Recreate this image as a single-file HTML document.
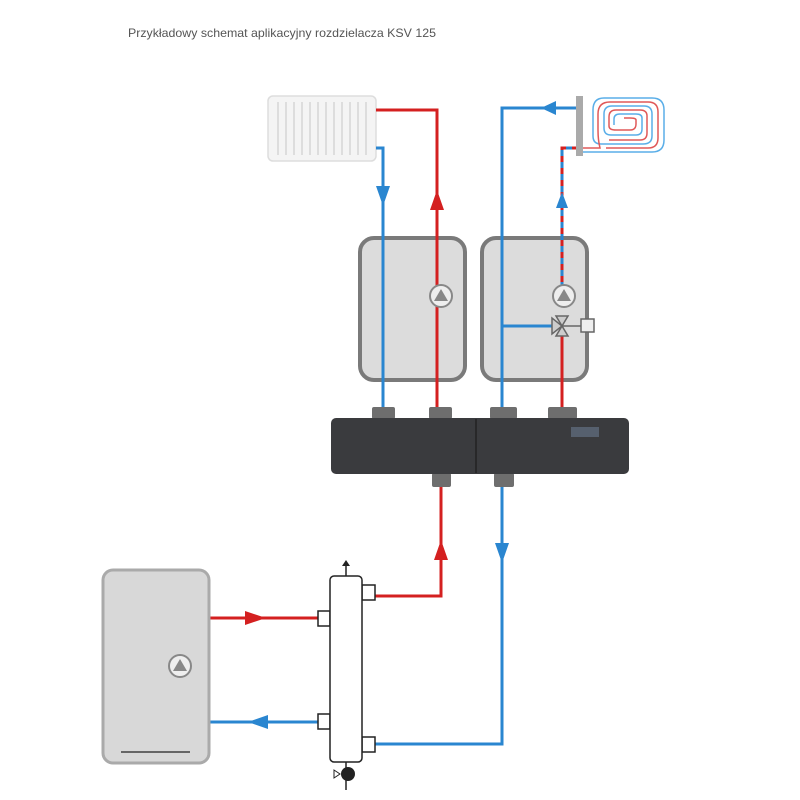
<!DOCTYPE html>
<html><head><style>body{margin:0;background:#fff}svg{display:block}</style></head><body>
<svg width="800" height="800" viewBox="0 0 800 800" xmlns="http://www.w3.org/2000/svg">
<text x="128" y="37" font-family="Liberation Sans, sans-serif" font-size="12" fill="#555" textLength="308" lengthAdjust="spacingAndGlyphs">Przykładowy schemat aplikacyjny rozdzielacza KSV 125</text>
<!-- radiator -->
<rect x="268" y="96" width="108" height="65" rx="5" fill="#f4f4f4" stroke="#ddd" stroke-width="1.5"/>
<g stroke="#ddd" stroke-width="2">
<line x1="278" y1="102" x2="278" y2="155"/><line x1="286" y1="102" x2="286" y2="155"/><line x1="294" y1="102" x2="294" y2="155"/><line x1="302" y1="102" x2="302" y2="155"/><line x1="310" y1="102" x2="310" y2="155"/><line x1="318" y1="102" x2="318" y2="155"/><line x1="326" y1="102" x2="326" y2="155"/><line x1="334" y1="102" x2="334" y2="155"/><line x1="342" y1="102" x2="342" y2="155"/><line x1="350" y1="102" x2="350" y2="155"/><line x1="358" y1="102" x2="358" y2="155"/><line x1="366" y1="102" x2="366" y2="155"/>
</g>
<!-- modules -->
<rect x="360" y="238" width="105" height="142" rx="14" fill="#dcdcdc" stroke="#7a7a7a" stroke-width="4"/>
<rect x="482" y="238" width="105" height="142" rx="14" fill="#dcdcdc" stroke="#7a7a7a" stroke-width="4"/>
<!-- pipes upper -->
<g fill="none" stroke-width="3">
<polyline points="376,110 437,110 437,410" stroke="#d42020"/>
<polyline points="376,148 383,148 383,410" stroke="#2a86d0"/>
<polyline points="578,108 502,108 502,410" stroke="#2a86d0"/>
<line x1="502" y1="326" x2="556" y2="326" stroke="#2a86d0"/>
<line x1="562" y1="410" x2="562" y2="330" stroke="#d42020"/>
<polyline points="562,306 562,148 578,148" stroke="#2a86d0"/>
<polyline points="562,306 562,148 578,148" stroke="#d42020" stroke-dasharray="6,6"/>
</g>
<!-- arrows upper -->
<polygon points="376,186 390,186 383,206" fill="#2a86d0"/>
<polygon points="430,210 444,210 437,190" fill="#d42020"/>
<polygon points="541,108 556,101 556,115" fill="#2a86d0"/>
<polygon points="556,208 568,208 562,192" fill="#2a86d0"/>
<!-- pumps -->
<g><circle cx="441" cy="296" r="11" fill="#eee" stroke="#888" stroke-width="2"/><polygon points="434,301 448,301 441,289" fill="#888"/></g>
<g><circle cx="564" cy="296" r="11" fill="#eee" stroke="#888" stroke-width="2"/><polygon points="557,301 571,301 564,289" fill="#888"/></g>
<!-- valve -->
<g fill="#ccc" stroke="#666" stroke-width="1.5">
<polygon points="552,318 552,334 562,326"/><polygon points="556,316 568,316 562,326"/><polygon points="556,336 568,336 562,326"/>
<line x1="562" y1="326" x2="581" y2="326"/>
<rect x="581" y="319" width="13" height="13" fill="#eee"/>
</g>
<!-- floor heating -->
<rect x="576" y="96" width="7" height="60" fill="#aaa"/>
<g fill="none" stroke-width="1.5">
<path d="M583,152 H652 Q664,152 664,140 V110 Q664,98 652,98 H604 Q593,98 593,110 V136 Q593,144 601,144 H643 Q652,144 652,136 V114 Q652,106 644,106 H612 Q604,106 604,114 V128 Q604,135 611,135 H636 Q642,135 642,129 V118 Q642,114 636,114 H620 Q614,114 614,119 V125" stroke="#5aaee8"/>
<path d="M583,148 H600 Q598,140 598,130 V114 Q598,102 610,102 H648 Q658,102 658,112 V138 Q658,148 648,148 H606 M609,140 H640 Q647,140 647,133 V116 Q647,110 640,110 H616 Q609,110 609,117 V126 Q609,130 616,130 H630 Q636,130 636,124 V120 Q636,118 630,118 H624" stroke="#e05858"/>
</g>
<!-- distributor -->
<g fill="#6e6e6e">
<rect x="372" y="407" width="23" height="12" rx="2"/><rect x="429" y="407" width="23" height="12" rx="2"/><rect x="490" y="407" width="27" height="12" rx="2"/><rect x="548" y="407" width="29" height="12" rx="2"/>
<rect x="432" y="473" width="19" height="14" rx="2"/><rect x="494" y="473" width="20" height="14" rx="2"/>
</g>
<rect x="331" y="418" width="298" height="56" rx="5" fill="#3a3b3e"/>
<line x1="476" y1="419" x2="476" y2="473" stroke="#222" stroke-width="1.5"/>
<rect x="571" y="427" width="28" height="10" fill="#56606e"/>
<!-- lower pipes -->
<g fill="none" stroke-width="3">
<polyline points="441,487 441,596 374,596" stroke="#d42020"/>
<polyline points="502,487 502,744 374,744" stroke="#2a86d0"/>
<line x1="209" y1="618" x2="318" y2="618" stroke="#d42020"/>
<line x1="209" y1="722" x2="318" y2="722" stroke="#2a86d0"/>
</g>
<polygon points="434,560 448,560 441,540" fill="#d42020"/>
<polygon points="495,543 509,543 502,563" fill="#2a86d0"/>
<polygon points="245,611 245,625 266,618" fill="#d42020"/>
<polygon points="268,715 268,729 248,722" fill="#2a86d0"/>
<!-- boiler -->
<rect x="103" y="570" width="106" height="193" rx="10" fill="#d8d8d8" stroke="#aaa" stroke-width="3"/>
<line x1="121" y1="752" x2="190" y2="752" stroke="#666" stroke-width="2"/>
<circle cx="180" cy="666" r="11" fill="#eee" stroke="#888" stroke-width="2"/><polygon points="173,671 187,671 180,659" fill="#888"/>
<!-- separator -->
<g fill="#fff" stroke="#222" stroke-width="1.5">
<rect x="362" y="585" width="13" height="15"/><rect x="318" y="611" width="12" height="15"/><rect x="318" y="714" width="12" height="15"/><rect x="362" y="737" width="13" height="15"/>
<rect x="330" y="576" width="32" height="186" rx="4"/>
</g>
<line x1="346" y1="576" x2="346" y2="563" stroke="#222" stroke-width="1.5"/>
<polygon points="342,566 350,566 346,560" fill="#222"/>
<line x1="346" y1="762" x2="346" y2="790" stroke="#222" stroke-width="1.5"/>
<circle cx="348" cy="774" r="7" fill="#222"/>
<polygon points="334,770 334,778 340,774" fill="#fff" stroke="#222"/>
</svg>
</body></html>
